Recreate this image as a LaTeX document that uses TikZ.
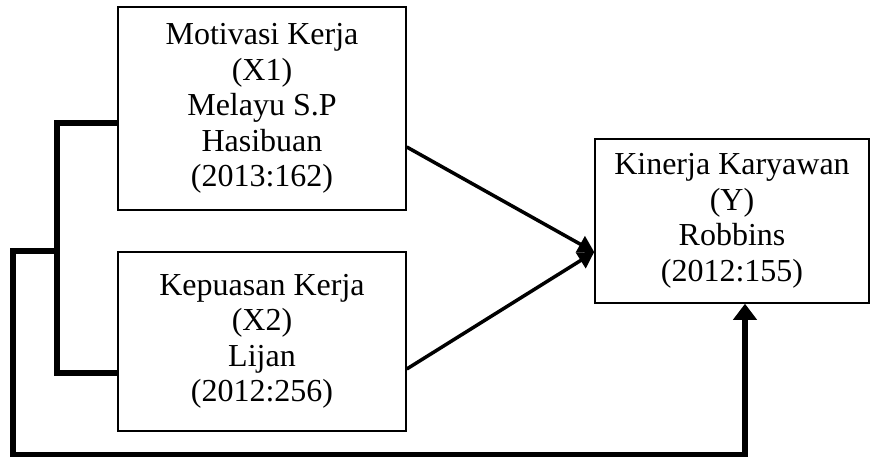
\documentclass[tikz,border=0pt]{standalone}
\usepackage{fontspec}
\setmainfont{Liberation Serif}
\usetikzlibrary{calc,arrows.meta}

\begin{document}
\begin{tikzpicture}[x=1pt,y=-1pt,
  box/.style={draw,line width=1.5pt,align=center,inner sep=0pt,font=\fontsize{32}{35.5}\selectfont},
  thin arrow/.style={line width=3.5pt,-{Triangle[length=16pt,width=18pt]}},
  heavy/.style={line width=6.5pt}]
\useasboundingbox (0,0) rectangle (872,457);
\node[box,minimum width=288pt,minimum height=203pt] (mot) at (262,108.5) {Motivasi Kerja\\(X1)\\Melayu S.P\\Hasibuan\\(2013:162)};
\node[box,minimum width=288pt,minimum height=179pt] (kep) at (262,341.5) {Kepuasan Kerja\\(X2)\\Lijan\\(2012:256)};
\node[box,minimum width=274pt,minimum height=164pt] (kin) at (732,221) {Kinerja Karyawan\\(Y)\\Robbins\\(2012:155)};
\coordinate (tip) at ($(kin.west)+(0,31)$);
\coordinate (brtop) at (57,123);
\coordinate (brbot) at (57,373);
\coordinate (brmid) at (57,251);
\coordinate (lpa) at (13,251);
\coordinate (lpb) at (13,455);
\coordinate (lpc) at (745,455);
\draw[thin arrow] ($(mot.east)+(0,38.5)$) to (tip);
\draw[thin arrow] ($(kep.east)+(0,27.5)$) to (tip);
\draw[heavy] ($(mot.west)+(0,14.5)$) -- (brtop) -- (brbot) -- ($(kep.west)+(0,31.5)$);
\draw[heavy,-{Triangle[length=16pt,width=23pt]}] (brmid) -- (lpa) -- (lpb) -- (lpc) -- (lpc |- kin.south);
\end{tikzpicture}
\end{document}
